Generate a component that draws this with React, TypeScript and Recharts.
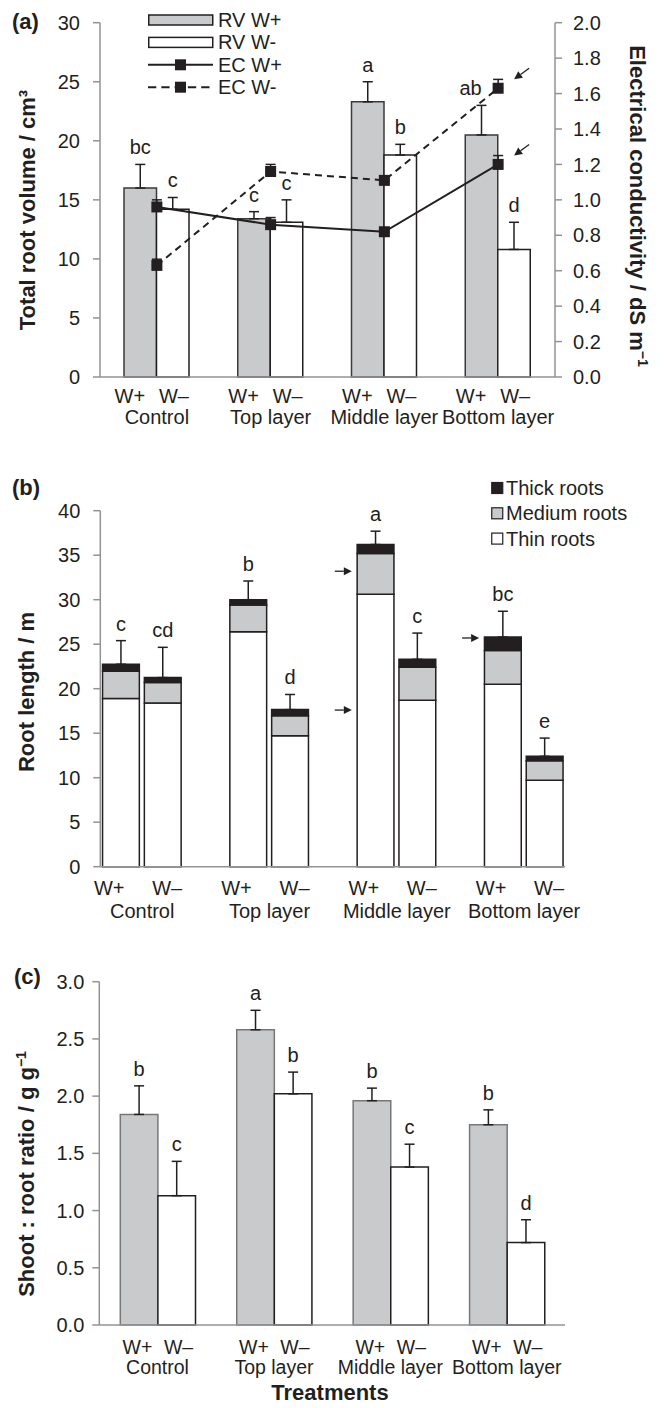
import React from 'react';
import {
  ComposedChart,
  BarChart,
  Bar,
  Line,
  XAxis,
  YAxis,
  ErrorBar,
  LabelList,
  Legend,
  ReferenceDot,
} from 'recharts';

const FONT = '"Liberation Sans", Arial, Helvetica, sans-serif';
const INK = '#231f20';
const GREY = '#c9cacc';
const AXIS = '#939393';

const treatments = ['Control', 'Top layer', 'Middle layer', 'Bottom layer'];

// (a) total root volume (cm3) and electrical conductivity (dS m-1)
const rvPlus = [16.0, 13.4, 23.3, 20.5];
const rvPlusErr = [2.0, 0.6, 1.7, 2.5];
const rvMinus = [14.2, 13.1, 18.8, 10.8];
const rvMinusErr = [1.0, 1.9, 0.9, 2.3];
const ecPlus = [0.96, 0.86, 0.82, 1.2];
const ecPlusErr = [0.04, 0.04, 0, 0.05];
const ecMinus = [0.63, 1.16, 1.11, 1.63];
const ecMinusErr = [0.035, 0.04, 0, 0.05];
const rvPlusLetters = ['bc', 'c', 'a', 'ab'];
const rvMinusLetters = ['c', 'c', 'b', 'd'];
const rvTicks = [0, 5, 10, 15, 20, 25, 30];
const ecTicks = [0, 0.2, 0.4, 0.6, 0.8, 1.0, 1.2, 1.4, 1.6, 1.8, 2.0];
const ecArrows = [ecMinus[3], ecPlus[3]];

// (b) root length (m) by diameter class
const thinPlus = [18.9, 26.4, 30.6, 20.5];
const mediumPlus = [3.05, 3.0, 4.6, 3.8];
const thickPlus = [0.8, 0.6, 1.0, 1.5];
const lenPlusErr = [2.65, 2.1, 1.5, 2.9];
const thinMinus = [18.4, 14.7, 18.7, 9.7];
const mediumMinus = [2.3, 2.25, 3.7, 2.2];
const thickMinus = [0.55, 0.7, 0.9, 0.5];
const lenMinusErr = [3.4, 1.7, 2.95, 2.05];
const lenPlusLetters = ['c', 'b', 'a', 'bc'];
const lenMinusLetters = ['cd', 'd', 'c', 'e'];
const lenTicks = [0, 5, 10, 15, 20, 25, 30, 35, 40];
const lenArrows = [
  { treatment: 'Middle layer', value: 33.2 },
  { treatment: 'Middle layer', value: 17.6 },
  { treatment: 'Bottom layer', value: 25.7 },
];

// (c) shoot : root ratio (g g-1)
const srPlus = [1.84, 2.58, 1.96, 1.75];
const srPlusErr = [0.25, 0.17, 0.11, 0.13];
const srMinus = [1.13, 2.02, 1.38, 0.72];
const srMinusErr = [0.3, 0.19, 0.2, 0.2];
const srPlusLetters = ['b', 'a', 'b', 'b'];
const srMinusLetters = ['c', 'b', 'c', 'd'];
const srTicks = [0, 0.5, 1.0, 1.5, 2.0, 2.5, 3.0];

const dataA = treatments.map((treatment, i) => ({
  treatment,
  rvPlus: rvPlus[i],
  rvPlusErr: [0, rvPlusErr[i]],
  rvMinus: rvMinus[i],
  rvMinusErr: [0, rvMinusErr[i]],
  ecPlus: ecPlus[i],
  ecPlusErr: [0, ecPlusErr[i]],
  ecMinus: ecMinus[i],
  ecMinusErr: [0, ecMinusErr[i]],
  rvPlusLetter: rvPlusLetters[i],
  rvMinusLetter: rvMinusLetters[i],
}));

const dataB = treatments.map((treatment, i) => ({
  treatment,
  thinPlus: thinPlus[i],
  mediumPlus: mediumPlus[i],
  thickPlus: thickPlus[i],
  lenPlusErr: [0, lenPlusErr[i]],
  thinMinus: thinMinus[i],
  mediumMinus: mediumMinus[i],
  thickMinus: thickMinus[i],
  lenMinusErr: [0, lenMinusErr[i]],
  plusLetter: lenPlusLetters[i],
  minusLetter: lenMinusLetters[i],
}));

const dataC = treatments.map((treatment, i) => ({
  treatment,
  srPlus: srPlus[i],
  srPlusErr: [0, srPlusErr[i]],
  srMinus: srMinus[i],
  srMinusErr: [0, srMinusErr[i]],
  plusLetter: srPlusLetters[i],
  minusLetter: srMinusLetters[i],
}));

const sumTops = (parts: number[][], errs: number[]) =>
  errs.map((e, i) => parts.reduce((s, p) => s + p[i], 0) + e);

const text20 = { fontFamily: FONT, fontSize: 20, fill: INK };

// letter sits above the error bar; the bar it hangs on starts at zero
const letterContent =
  (letters: string[], values: number[], tops: number[], shift: number[] = []) =>
  (props: any) => {
    const box = props.viewBox && typeof props.viewBox.width === 'number' ? props.viewBox : props;
    const i = props.index;
    const x = Number(box.x);
    const y = Number(box.y);
    const w = Number(box.width);
    const h = Number(box.height);
    const ppu = h / values[i];
    const yTop = y + h - tops[i] * ppu;
    return (
      <text key={`let-${i}-${letters[i]}`} x={x + w / 2 + (shift[i] || 0)} y={yTop - 10} textAnchor="middle" {...text20}>
        {letters[i]}
      </text>
    );
  };

const makeTick =
  (dxPlus: number, dxMinus: number, dy1: number, dy2: number, size = 20) =>
  (props: any) => {
    const { x, y, payload } = props;
    const st = { fontFamily: FONT, fontSize: size, fill: INK };
    return (
      <g>
        <text x={x + dxPlus} y={y + dy1} textAnchor="middle" {...st}>W+</text>
        <text x={x + dxMinus} y={y + dy1} textAnchor="middle" {...st}>W–</text>
        <text x={x} y={y + dy2} textAnchor="middle" {...st}>{payload.value}</text>
      </g>
    );
  };

const Arrow = ({ x1, y1, x2, y2 }: { x1: number; y1: number; x2: number; y2: number }) => {
  const len = Math.hypot(x2 - x1, y2 - y1);
  const ux = (x2 - x1) / len;
  const uy = (y2 - y1) / len;
  const bx = x2 - ux * 8;
  const by = y2 - uy * 8;
  return (
    <g>
      <line x1={x1} y1={y1} x2={bx} y2={by} stroke={INK} strokeWidth={1.3} />
      <polygon
        points={`${x2},${y2} ${bx - uy * 4},${by + ux * 4} ${bx + uy * 4},${by - ux * 4}`}
        fill={INK}
      />
    </g>
  );
};

const squareDot = (props: any) => {
  const { cx, cy, index, dataKey } = props;
  if (cx == null || cy == null) return <g key={`sq-${dataKey}-${index}`} />;
  return <rect key={`sq-${dataKey}-${index}`} x={cx - 5.5} y={cy - 5.5} width={11} height={11} fill={INK} />;
};

const legendOrderA = ['RV W+', 'RV W-', 'EC W+', 'EC W-'];

const LegendA = (props: any) => {
  const items = [...(props.payload ?? [])].sort(
    (p: any, q: any) => legendOrderA.indexOf(p.value) - legendOrderA.indexOf(q.value)
  );
  return (
    <svg width={170} height={100}>
      {items.map((item: any, i: number) => {
        const cy = 10 + i * 22.4;
        const key = String(item.dataKey);
        let icon;
        if (key === 'rvPlus' || key === 'rvMinus') {
          icon = (
            <rect x={0.75} y={cy - 5} width={64} height={10}
              fill={key === 'rvPlus' ? GREY : '#fff'} stroke={INK} strokeWidth={1.5} />
          );
        } else {
          icon = (
            <g>
              <line x1={0} y1={cy} x2={65} y2={cy} stroke={INK} strokeWidth={2}
                strokeDasharray={key === 'ecMinus' ? '8.3 5' : undefined} />
              <rect x={27} y={cy - 5.5} width={11} height={11} fill={INK} />
            </g>
          );
        }
        return (
          <g key={key}>
            {icon}
            <text x={70} y={cy + 7} {...text20}>{item.value}</text>
          </g>
        );
      })}
    </svg>
  );
};

const legendB = [
  { name: 'Thick roots', fill: INK },
  { name: 'Medium roots', fill: GREY },
  { name: 'Thin roots', fill: '#fff' },
];

const LegendB = () => (
  <svg width={170} height={84}>
    {legendB.map((item, i) => {
      const cy = 10 + i * 25.3;
      return (
        <g key={item.name}>
          <rect x={0.75} y={cy - 5.5} width={11} height={11} fill={item.fill} stroke={INK} strokeWidth={1.2} />
          <text x={15} y={cy + 7} {...text20}>{item.name}</text>
        </g>
      );
    })}
  </svg>
);

const axisLine = { stroke: AXIS, strokeWidth: 1.5 };
const tickLine = { stroke: AXIS, strokeWidth: 1.5 };
const yTick = { fontFamily: FONT, fontSize: 20, fill: INK };

function PanelA() {
  return (
    <ComposedChart
      width={668}
      height={440}
      data={dataA}
      margin={{ top: 22.7, right: 0, bottom: 3, left: 0 }}
      barSize={32.5}
      barGap={0}
    >
      <XAxis
        dataKey="treatment"
        axisLine={axisLine}
        tickLine={false}
        tickSize={0}
        tickMargin={0}
        interval={0}
        height={60}
        tick={makeTick(-27, 17, 26, 46.5)}
      />
      <YAxis
        yAxisId="rv"
        width={100}
        domain={[0, 30]}
        ticks={rvTicks}
        interval={0}
        axisLine={axisLine}
        tickLine={tickLine}
        tickSize={7}
        tickMargin={13}
        tick={yTick}
      />
      <YAxis
        yAxisId="ec"
        orientation="right"
        width={113}
        domain={[0, 2]}
        ticks={ecTicks}
        interval={0}
        axisLine={axisLine}
        tickLine={tickLine}
        tickSize={7}
        tickMargin={11}
        tick={yTick}
        tickFormatter={(v: number) => v.toFixed(1)}
      />
      <Legend
        layout="vertical"
        align="center"
        verticalAlign="middle"
        content={LegendA}
        wrapperStyle={{ left: 148, top: 10, width: 170, height: 100 }}
      />
      <Bar yAxisId="rv" dataKey="rvPlus" name="RV W+" fill={GREY} stroke="#3a3a3a" strokeWidth={1.5} isAnimationActive={false}>
        <ErrorBar dataKey="rvPlusErr" width={5} stroke={INK} strokeWidth={1.5} direction="y" />
        <LabelList
          dataKey="rvPlusLetter"
          content={letterContent(rvPlusLetters, rvPlus, sumTops([rvPlus], rvPlusErr), [0, 0, 0, -11])}
        />
      </Bar>
      <Bar yAxisId="rv" dataKey="rvMinus" name="RV W-" fill="#fff" stroke={INK} strokeWidth={1.5} isAnimationActive={false}>
        <ErrorBar dataKey="rvMinusErr" width={5} stroke={INK} strokeWidth={1.5} direction="y" />
        <LabelList dataKey="rvMinusLetter" content={letterContent(rvMinusLetters, rvMinus, sumTops([rvMinus], rvMinusErr))} />
      </Bar>
      <Line yAxisId="ec" type="linear" dataKey="ecPlus" name="EC W+" stroke={INK} strokeWidth={2}
        dot={squareDot} activeDot={false} isAnimationActive={false}>
        <ErrorBar dataKey="ecPlusErr" width={5} stroke={INK} strokeWidth={1.5} direction="y" />
      </Line>
      <Line yAxisId="ec" type="linear" dataKey="ecMinus" name="EC W-" stroke={INK} strokeWidth={2}
        strokeDasharray="7 5" dot={squareDot} activeDot={false} isAnimationActive={false}>
        <ErrorBar dataKey="ecMinusErr" width={5} stroke={INK} strokeWidth={1.5} direction="y" />
      </Line>
      {ecArrows.map((v, i) => (
        <ReferenceDot
          key={`ecarrow-${i}`}
          yAxisId="ec"
          x={treatments[3]}
          y={v}
          r={0}
          shape={(p: any) => <Arrow x1={p.cx + 31} y1={p.cy - 20} x2={p.cx + 16} y2={p.cy - 9} />}
        />
      ))}
    </ComposedChart>
  );
}

function PanelB() {
  const segStroke = { stroke: INK, strokeWidth: 1.5, isAnimationActive: false };
  return (
    <BarChart
      width={668}
      height={470}
      data={dataB}
      margin={{ top: 50.7, right: 103, bottom: 3.3, left: 0 }}
      barSize={36.8}
      barGap={5}
    >
      <XAxis
        dataKey="treatment"
        axisLine={axisLine}
        tickLine={false}
        tickSize={0}
        tickMargin={0}
        interval={0}
        height={60}
        padding={{ left: -21.75, right: -22.75 }}
        tick={makeTick(-33, 25, 28.5, 51)}
      />
      <YAxis
        width={100.3}
        domain={[0, 40]}
        ticks={lenTicks}
        interval={0}
        axisLine={axisLine}
        tickLine={tickLine}
        tickSize={7}
        tickMargin={13}
        tick={yTick}
      />
      <Legend
        layout="vertical"
        align="center"
        verticalAlign="middle"
        content={LegendB}
        wrapperStyle={{ left: 491, top: 18, width: 170, height: 84 }}
      />
      <Bar dataKey="thinPlus" stackId="plus" fill="#fff" {...segStroke}>
        <LabelList dataKey="plusLetter"
          content={letterContent(lenPlusLetters, thinPlus, sumTops([thinPlus, mediumPlus, thickPlus], lenPlusErr))} />
      </Bar>
      <Bar dataKey="mediumPlus" stackId="plus" fill={GREY} {...segStroke} />
      <Bar dataKey="thickPlus" stackId="plus" fill={INK} {...segStroke}>
        <ErrorBar dataKey="lenPlusErr" width={5} stroke={INK} strokeWidth={1.5} direction="y" />
      </Bar>
      <Bar dataKey="thinMinus" stackId="minus" fill="#fff" {...segStroke}>
        <LabelList dataKey="minusLetter"
          content={letterContent(lenMinusLetters, thinMinus, sumTops([thinMinus, mediumMinus, thickMinus], lenMinusErr))} />
      </Bar>
      <Bar dataKey="mediumMinus" stackId="minus" fill={GREY} {...segStroke} />
      <Bar dataKey="thickMinus" stackId="minus" fill={INK} {...segStroke}>
        <ErrorBar dataKey="lenMinusErr" width={5} stroke={INK} strokeWidth={1.5} direction="y" />
      </Bar>
      {lenArrows.map((a, i) => (
        <ReferenceDot
          key={`lenarrow-${i}`}
          x={a.treatment}
          y={a.value}
          r={0}
          shape={(p: any) => <Arrow x1={p.cx - 62} y1={p.cy} x2={p.cx - 45} y2={p.cy} />}
        />
      ))}
    </BarChart>
  );
}

function PanelC() {
  return (
    <BarChart
      width={668}
      height={488}
      data={dataC}
      margin={{ top: 61.7, right: 103, bottom: 3, left: 0 }}
      barSize={37.6}
      barGap={0}
    >
      <XAxis
        dataKey="treatment"
        axisLine={axisLine}
        tickLine={false}
        tickSize={0}
        tickMargin={0}
        interval={0}
        height={80}
        tick={makeTick(-20, 21, 28.5, 49, 19.5)}
      />
      <YAxis
        width={99.3}
        domain={[0, 3]}
        ticks={srTicks}
        interval={0}
        axisLine={axisLine}
        tickLine={tickLine}
        tickSize={7}
        tickMargin={8}
        tick={yTick}
        tickFormatter={(v: number) => v.toFixed(1)}
      />
      <Bar dataKey="srPlus" fill={GREY} stroke="#777" strokeWidth={1.5} isAnimationActive={false}>
        <ErrorBar dataKey="srPlusErr" width={5} stroke={INK} strokeWidth={1.5} direction="y" />
        <LabelList dataKey="plusLetter" content={letterContent(srPlusLetters, srPlus, sumTops([srPlus], srPlusErr))} />
      </Bar>
      <Bar dataKey="srMinus" fill="#fff" stroke={INK} strokeWidth={1.5} isAnimationActive={false}>
        <ErrorBar dataKey="srMinusErr" width={5} stroke={INK} strokeWidth={1.5} direction="y" />
        <LabelList dataKey="minusLetter" content={letterContent(srMinusLetters, srMinus, sumTops([srMinus], srMinusErr))} />
      </Bar>
    </BarChart>
  );
}

const bold22 = { fontFamily: FONT, fontSize: 22, fontWeight: 700, fill: INK };

function Titles() {
  return (
    <svg width={668} height={1408} style={{ position: 'absolute', left: 0, top: 0, pointerEvents: 'none' }}>
      <text x={12} y={29} {...bold22}>(a)</text>
      <text x={12} y={495} {...bold22}>(b)</text>
      <text x={14} y={984} {...bold22}>(c)</text>
      <text transform="translate(34.5 210) rotate(-90)" textAnchor="middle" {...bold22}>
        Total root volume / cm³
      </text>
      <text transform="translate(630 206) rotate(90)" textAnchor="middle" {...bold22}>
        Electrical conductivity / dS m<tspan dy={-8} fontSize={14}>−1</tspan>
      </text>
      <text transform="translate(34 692) rotate(-90)" textAnchor="middle" {...bold22}>
        Root length / m
      </text>
      <text transform="translate(34 1174) rotate(-90)" textAnchor="middle" {...bold22}>
        Shoot : root ratio / g g<tspan dy={-8} fontSize={14}>−1</tspan>
      </text>
      <text x={330} y={1400} textAnchor="middle" {...bold22}>Treatments</text>
    </svg>
  );
}

export default function App() {
  return (
    <div style={{ position: 'absolute', left: 0, top: 0, width: 668, height: 1408, background: '#fff', fontFamily: FONT }}>
      <div style={{ position: 'absolute', left: 0, top: 0 }}>
        <PanelA />
      </div>
      <div style={{ position: 'absolute', left: 0, top: 460 }}>
        <PanelB />
      </div>
      <div style={{ position: 'absolute', left: 0, top: 920 }}>
        <PanelC />
      </div>
      <Titles />
    </div>
  );
}
